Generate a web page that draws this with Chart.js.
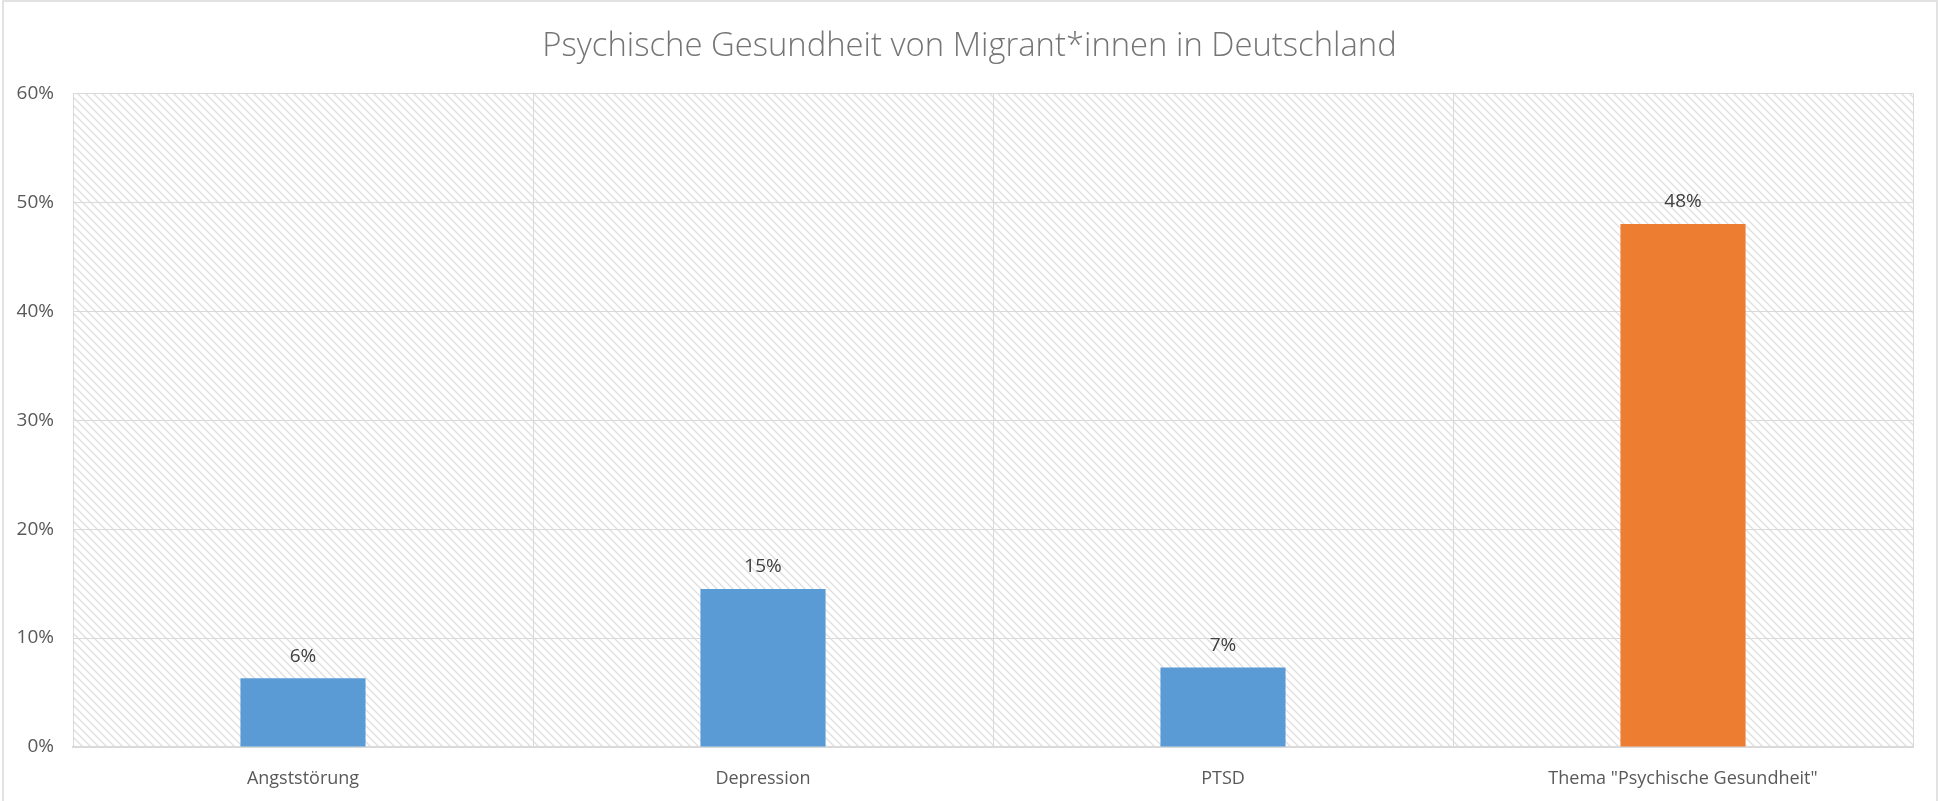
<!DOCTYPE html>
<html>
<head>
<meta charset="utf-8">
<script src="https://cdn.jsdelivr.net/npm/chart.js@4"></script>
<style>
    html, body { margin: 0; padding: 0; background: #ffffff; }
    #wrap { width: 1939px; height: 801px; position: relative; }
</style>
</head>
<body>
<div id="wrap"><canvas id="barChart"></canvas></div>
<script>
// ====================
// DATA
// ====================
const categories = ["Angststörung", "Depression", "PTSD", 'Thema "Psychische Gesundheit"'];
const shares = [6.3, 14.5, 7.3, 48.0];
const highlighted = 'Thema "Psychische Gesundheit"';
const yMin = 0;
const yMax = 60;
const yStep = 10;

const BLUE = "#5B9BD5";
const ORANGE = "#ED7D31";
const GRID = "#d9d9d9";
const TEXT = "#595959";
const FONT = "'Open Sans', 'Liberation Sans', sans-serif";

// light downward diagonal fill, like the Excel plot area
function makeHatch() {
    const tile = document.createElement("canvas");
    tile.width = 8;
    tile.height = 8;
    const c = tile.getContext("2d");
    c.strokeStyle = "#dedede";
    c.lineWidth = 1.3;
    c.beginPath();
    c.moveTo(-1, -1); c.lineTo(9, 9);
    c.moveTo(-1, 7); c.lineTo(1, 9);
    c.moveTo(7, -1); c.lineTo(9, 1);
    c.stroke();
    return tile;
}

const plotBackground = {
    id: "plotBackground",
    beforeDraw(chart) {
        const { ctx, chartArea: a } = chart;
        ctx.save();
        ctx.fillStyle = "#ffffff";
        ctx.fillRect(0, 0, chart.width, chart.height);
        ctx.fillStyle = ctx.createPattern(makeHatch(), "repeat");
        ctx.fillRect(a.left, a.top, a.right - a.left, a.bottom - a.top);
        // outer frame of the chart object
        ctx.strokeStyle = GRID;
        ctx.lineWidth = 1.5;
        ctx.strokeRect(3, 1, chart.width - 5, chart.height + 10);
        ctx.restore();
    }
};

const valueLabels = {
    id: "valueLabels",
    afterDatasetsDraw(chart) {
        const { ctx } = chart;
        const meta = chart.getDatasetMeta(0);
        ctx.save();
        ctx.fillStyle = "#404040";
        ctx.font = "19px " + FONT;
        ctx.textAlign = "center";
        ctx.textBaseline = "middle";
        meta.data.forEach((bar, i) => {
            const v = chart.data.datasets[0].data[i];
            ctx.fillText(Math.round(v) + "%", bar.x, bar.y - 22);
        });
        ctx.restore();
    }
};

// ====================
// BAR CHART
// ====================
new Chart(document.getElementById("barChart"), {
    type: "bar",
    data: {
        labels: categories,
        datasets: [{
            data: shares,
            backgroundColor: ctx => categories[ctx.dataIndex] === highlighted ? ORANGE : BLUE,
            borderWidth: 0,
            barPercentage: 0.272,
            categoryPercentage: 1.0
        }]
    },
    options: {
        responsive: true,
        maintainAspectRatio: false,
        animation: false,
        layout: {
            padding: { left: 13, right: 13, top: 0, bottom: 0 }
        },
        plugins: {
            legend: { display: false },
            tooltip: { enabled: false },
            title: {
                display: true,
                text: "Psychische Gesundheit von Migrant*innen in Deutschland",
                color: "#757575",
                font: { family: FONT, size: 32.8, weight: "300", lineHeight: 1.2 },
                padding: { top: 27, bottom: 27 }
            }
        },
        scales: {
            x: {
                grid: { color: GRID, lineWidth: 1, drawTicks: false, offset: true },
                border: { color: GRID, width: 2 },
                ticks: {
                    color: TEXT,
                    padding: 21,
                    font: { family: FONT, size: 18 }
                },
                afterFit(scale) { scale.height = 54; }
            },
            y: {
                min: yMin,
                max: yMax,
                grid: { color: GRID, lineWidth: 1, drawTicks: false },
                border: { color: GRID, width: 1 },
                ticks: {
                    stepSize: yStep,
                    color: TEXT,
                    padding: 19,
                    font: { family: FONT, size: 19 },
                    callback: v => v + "%"
                },
                afterFit(scale) { scale.width = 60; }
            },
            // empty spacer on the right so the title stays centred on the canvas
            spacer: {
                type: "linear",
                position: "right",
                grid: { display: false },
                border: { display: false },
                ticks: { display: false },
                afterFit(scale) { scale.width = 13; }
            }
        }
    },
    plugins: [plotBackground, valueLabels]
});
</script>
</body>
</html>
